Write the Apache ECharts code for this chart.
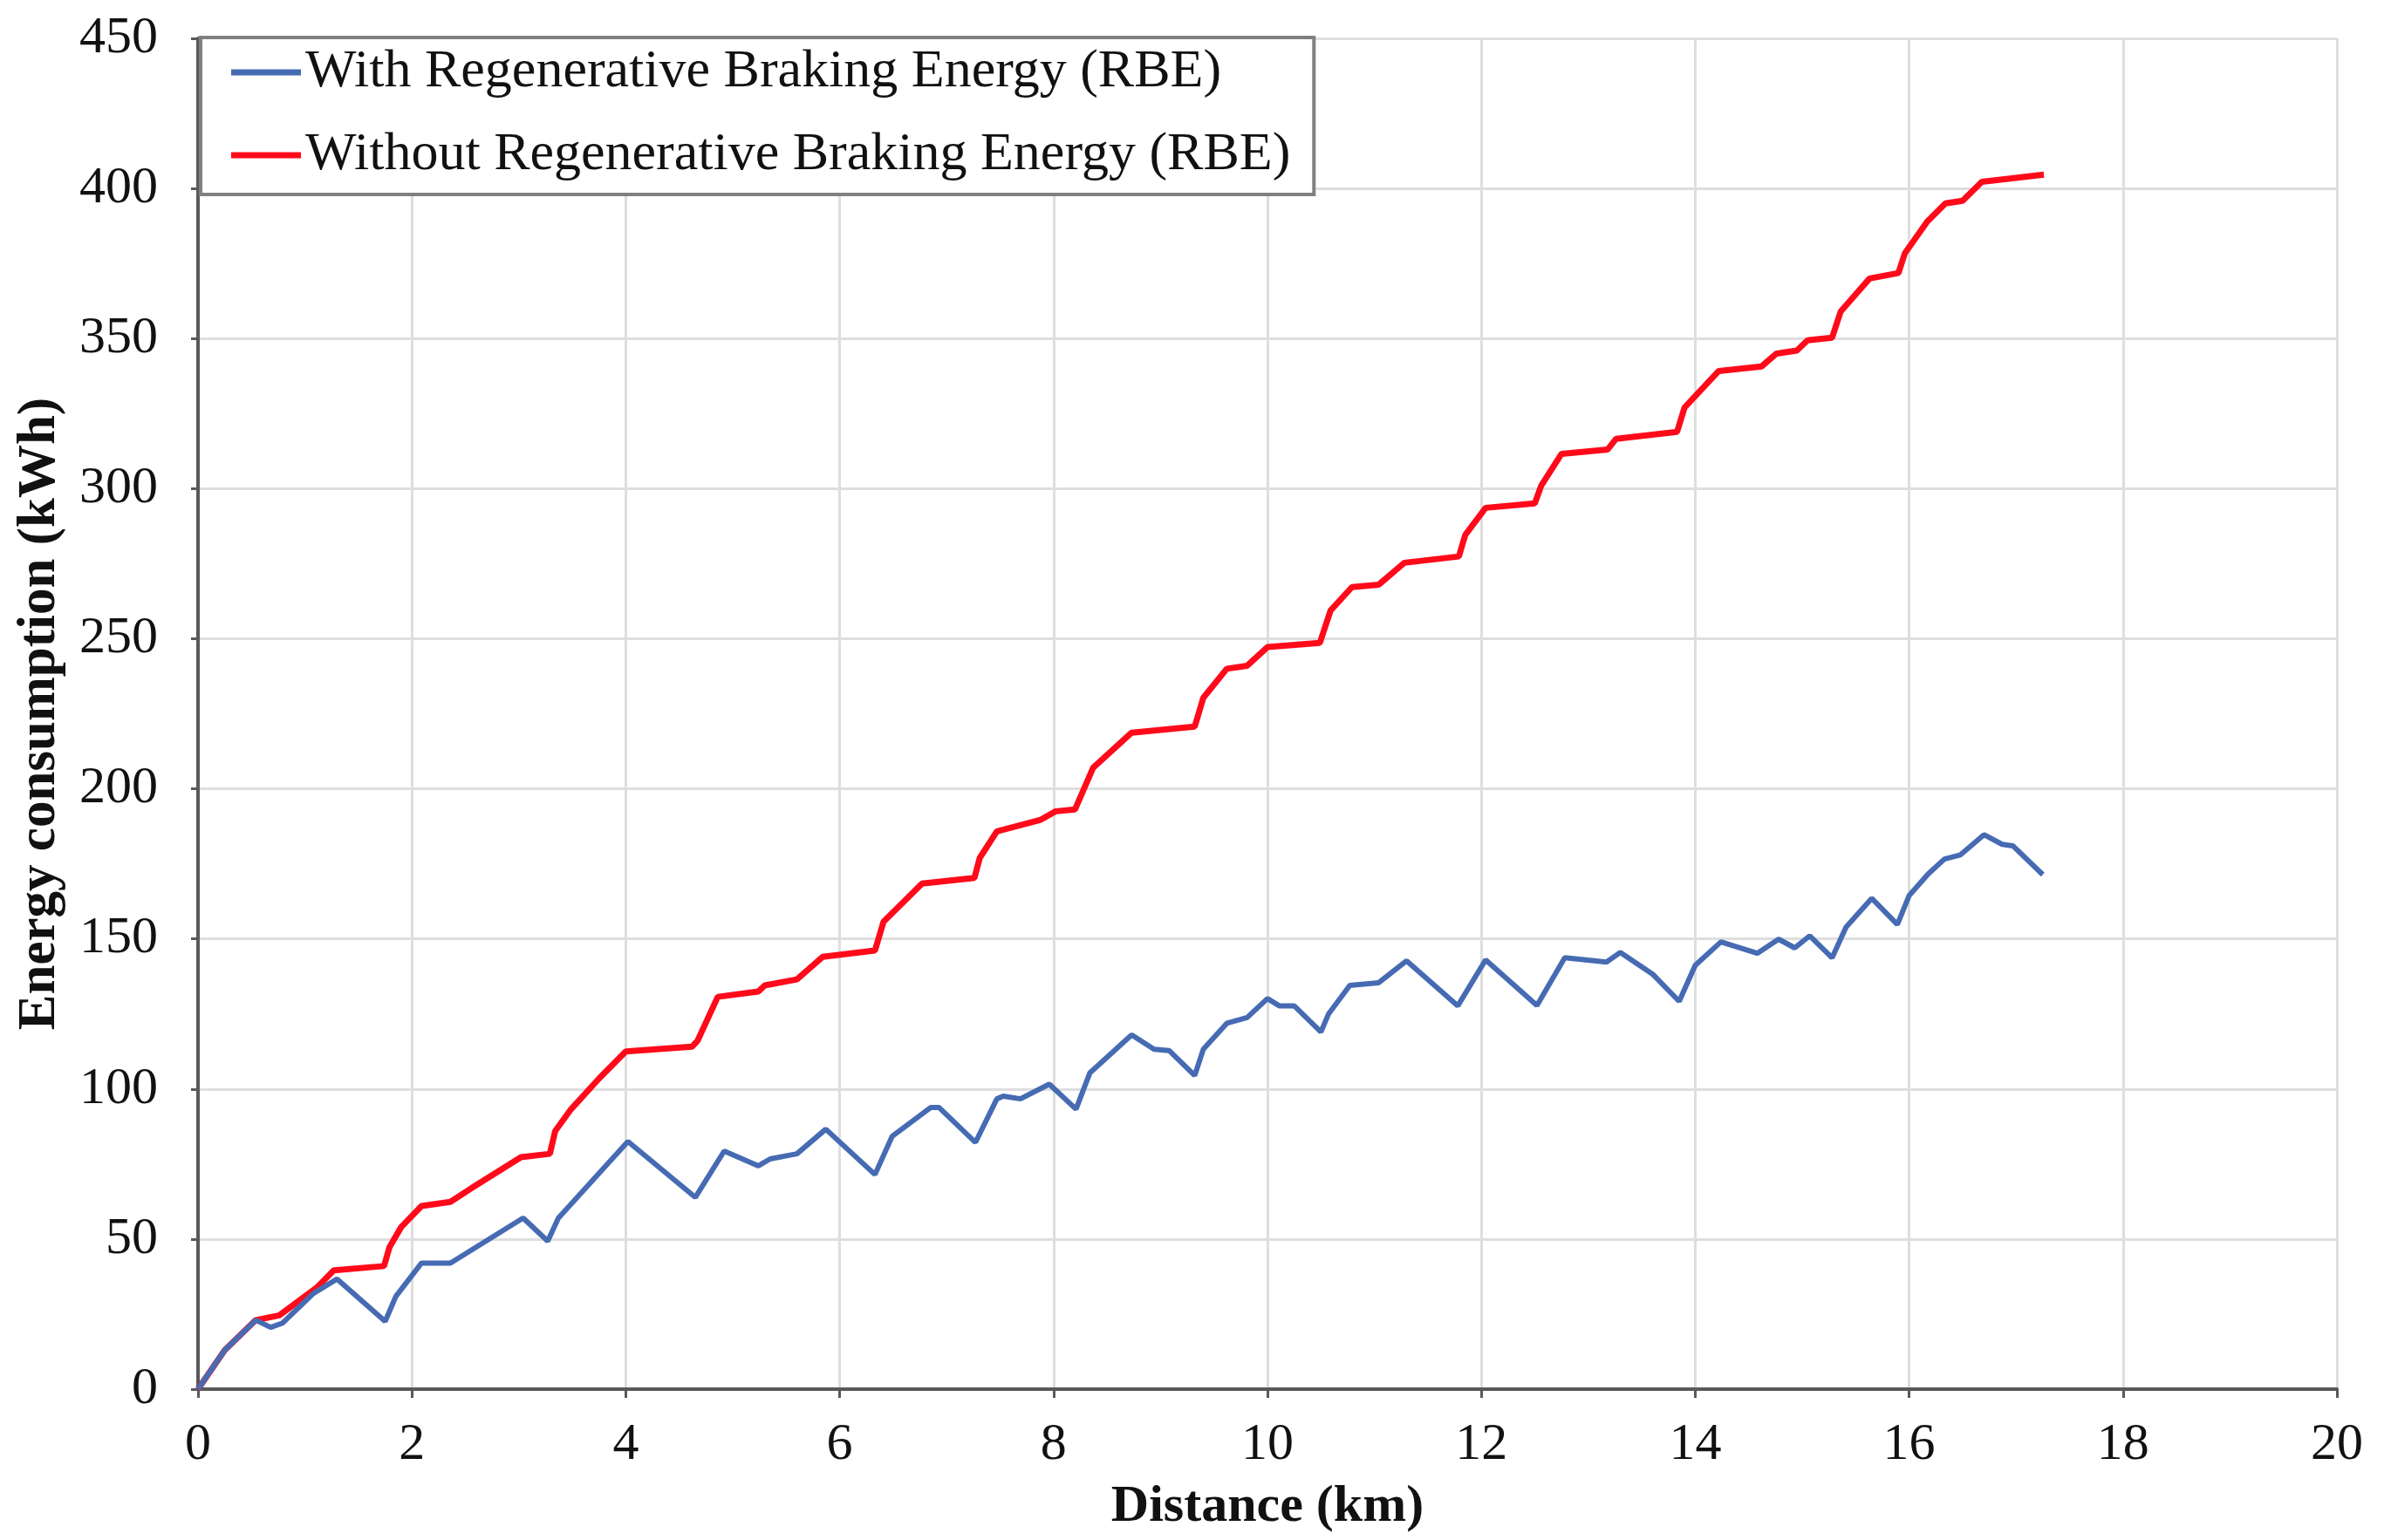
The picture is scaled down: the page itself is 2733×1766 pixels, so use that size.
<!DOCTYPE html>
<html>
<head>
<meta charset="utf-8">
<script src="https://cdn.jsdelivr.net/npm/echarts@6/dist/echarts.min.js"></script>
<style>
html,body{margin:0;padding:0;background:#fff;}
#chart{width:2733px;height:1766px;}
</style>
</head>
<body>
<div id="chart"></div>
<script>
// Distance (km) and energy (kWh)
var withRbeDist = [0,0.25,0.54,0.68,0.79,1.08,1.30,1.75,1.85,2.09,2.36,3.04,3.27,3.37,4.02,4.65,4.92,5.24,5.35,5.60,5.87,6.33,6.49,6.85,6.93,7.27,7.47,7.53,7.69,7.96,8.21,8.34,8.73,8.94,9.08,9.32,9.40,9.62,9.81,10.0,10.11,10.25,10.50,10.57,10.77,11.04,11.30,11.78,12.04,12.52,12.78,13.17,13.30,13.60,13.85,14.0,14.24,14.58,14.78,14.93,15.07,15.28,15.41,15.65,15.89,16.0,16.18,16.33,16.48,16.70,16.87,16.97,17.25];
var withRbeEnergy = [0,13,23,20.6,22,31.9,36.7,22.6,30.9,42,42,57,49.3,57,82.5,63.9,79.3,74.4,76.7,78.4,86.6,71.5,84.2,93.8,93.8,82.2,96.7,97.6,96.7,101.6,93.3,105.4,118,113.2,112.8,104.5,113.2,121.9,123.8,130.1,127.7,127.7,119,124.9,134.5,135.4,142.7,127.7,143,127.8,143.7,142.3,145.5,138.3,129.2,141.2,149,145.2,149.9,147,151,143.7,153.9,163.5,154.8,164.4,171.7,176.6,178,184.7,181.5,181,171.4];
var withoutRbeDist = [0,0.25,0.54,0.76,1.11,1.27,1.74,1.79,1.90,2.09,2.36,2.55,3.02,3.29,3.34,3.48,3.75,4.0,4.62,4.67,4.86,5.24,5.30,5.60,5.84,6.33,6.41,6.77,7.26,7.31,7.47,7.88,8.02,8.2,8.37,8.73,9.32,9.40,9.62,9.81,10.0,10.49,10.59,10.79,11.04,11.28,11.79,11.85,12.04,12.50,12.56,12.75,13.18,13.26,13.83,13.90,14.22,14.62,14.76,14.95,15.05,15.28,15.36,15.63,15.90,15.96,16.17,16.34,16.50,16.68,17.26];
var withoutRbeEnergy = [0,13,23,24.6,33.8,39.6,41,47.3,54,61,62.4,66.8,77.3,78.4,86,92.9,103.5,112.5,114.1,116,130.7,132.5,134.5,136.5,144,146.1,155.7,168.4,170.3,177,185.8,189.7,192.5,193.1,207,218.7,220.7,230.3,240,241,247.2,248.6,259.4,267.2,268,275.3,277.4,284.6,293.6,295.1,301,311.6,313,316.6,318.9,327,339.2,340.7,345,346,349.4,350.3,359,370,371.8,378.4,389,395,395.9,402.2,404.6];
var seriesNames = ['With Regenerative Braking Energy (RBE)', 'Without Regenerative Braking Energy (RBE)'];

function zip(xs, ys){ return xs.map(function(x,i){ return [x, ys[i]]; }); }

var font = "'Liberation Serif','Times New Roman',serif";
var chart = echarts.init(document.getElementById('chart'));
chart.setOption({
  backgroundColor:'#ffffff',
  animation:false,
  grid:{left:227,right:54,top:44,bottom:173,containLabel:false},
  legend:{
    orient:'vertical', left:230, top:43,
    backgroundColor:'#ffffff',
    borderColor:'#808080', borderWidth:4,
    padding:[9,27,14,35],
    itemGap:33, itemWidth:80, itemHeight:7, icon:'rect',
    textStyle:{fontFamily:font,fontSize:62,color:'#111'},
    data:seriesNames
  },
  xAxis:{
    type:'value', min:0, max:20, interval:2,
    name:'Distance (km)', nameLocation:'middle', nameGap:105,
    nameTextStyle:{fontFamily:font,fontSize:60,fontWeight:'bold',color:'#111'},
    axisLine:{show:true,onZero:false,lineStyle:{color:'#595959',width:4}},
    axisTick:{show:true,length:10,lineStyle:{color:'#595959',width:3}},
    axisLabel:{fontFamily:font,fontSize:60,color:'#111',margin:34},
    splitLine:{show:true,lineStyle:{color:'#dedede',width:3}}
  },
  yAxis:{
    type:'value', min:0, max:450, interval:50,
    name:'Energy consumption (kWh)', nameLocation:'middle', nameGap:150,
    nameTextStyle:{fontFamily:font,fontSize:61,fontWeight:'bold',color:'#111'},
    axisLine:{show:true,lineStyle:{color:'#595959',width:4}},
    axisTick:{show:true,length:8,lineStyle:{color:'#595959',width:3}},
    axisLabel:{fontFamily:font,fontSize:60,color:'#111',margin:46},
    splitLine:{show:true,lineStyle:{color:'#dedede',width:3}}
  },
  series:[
    {name:seriesNames[1], type:'line', data:zip(withoutRbeDist, withoutRbeEnergy), showSymbol:false, smooth:false,
     lineStyle:{color:'#ff0a1a',width:7}, itemStyle:{color:'#ff0a1a'}, z:2},
    {name:seriesNames[0], type:'line', data:zip(withRbeDist, withRbeEnergy), showSymbol:false, smooth:false,
     lineStyle:{color:'#466bb3',width:6}, itemStyle:{color:'#466bb3'}, z:3}
  ]
});
</script>
</body>
</html>
